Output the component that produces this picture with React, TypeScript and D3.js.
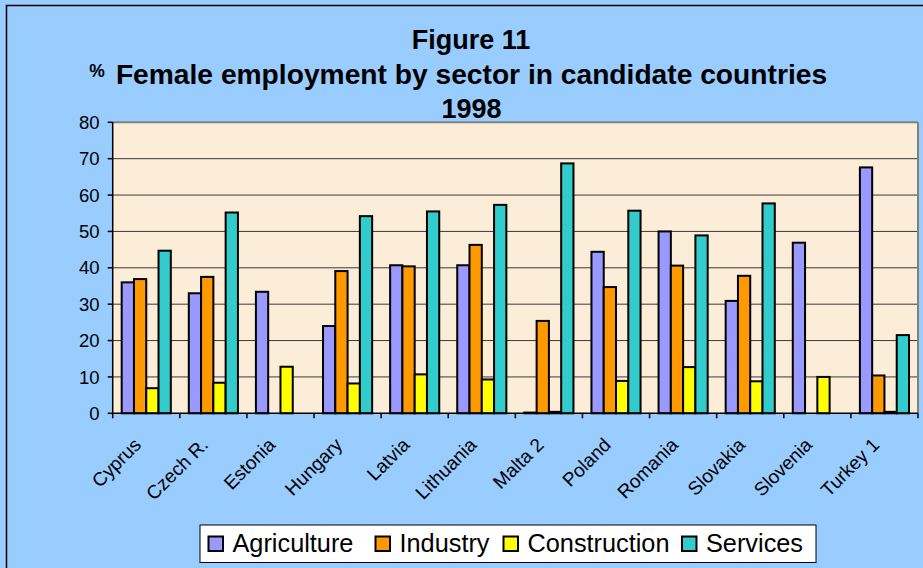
import React from "react";
import * as d3 from "d3";

const categories = ["Cyprus", "Czech R.", "Estonia", "Hungary", "Latvia", "Lithuania", "Malta 2", "Poland", "Romania", "Slovakia", "Slovenia", "Turkey 1"];
const seriesNames = ["Agriculture", "Industry", "Construction", "Services"];
const agriculture = [36.0, 33.0, 33.4, 24.0, 40.7, 40.7, 0.2, 44.4, 50.0, 30.9, 46.9, 67.6];
const industry = [36.9, 37.5, null, 39.1, 40.4, 46.3, 25.4, 34.7, 40.6, 37.8, null, 10.4];
const construction = [6.9, 8.4, 12.8, 8.2, 10.7, 9.3, 0.4, 8.9, 12.7, 8.8, 10.0, 0.4];
const services = [44.7, 55.2, null, 54.2, 55.5, 57.3, 68.7, 55.7, 48.9, 57.7, null, 21.5];
const yTicks = [0, 10, 20, 30, 40, 50, 60, 70, 80];
const colors = ["#9999FF", "#FF9900", "#FFFF00", "#33CCCC"];

const W = 923;
const H = 568;
const left = 112.7;
const right = 918;
const top = 122.3;
const bottom = 413.3;

export default function App() {
  const seriesValues: (number | null)[][] = [agriculture, industry, construction, services];
  const x0 = d3.scaleBand<string>().domain(categories).range([left, right]).padding(0);
  const bw = x0.bandwidth();
  const x1 = d3.scaleBand<string>().domain(seriesNames).range([bw * 0.134, bw * 0.866]).padding(0);
  const y = d3.scaleLinear().domain([0, 80]).range([bottom, top]);
  const font = "Arial, 'Liberation Sans', sans-serif";

  const legendItems = [
    { name: seriesNames[0], sx: 208.5, color: colors[0] },
    { name: seriesNames[1], sx: 375.5, color: colors[1] },
    { name: seriesNames[2], sx: 503.5, color: colors[2] },
    { name: seriesNames[3], sx: 682, color: colors[3] },
  ];

  return (
    <svg width={W} height={H} style={{ position: "absolute", left: 0, top: 0, display: "block" }} fontFamily={font}>
      <rect x={0} y={0} width={W} height={H} fill="#99CCFF" />
      <rect x={6.5} y={5.5} width={2000} height={2000} fill="none" stroke="#000" strokeWidth={1.5} />
      {/* Titles */}
      <text x={471} y={48.5} textAnchor="middle" fontWeight="bold" fontSize={27}>Figure 11</text>
      <text x={97} y={76.5} textAnchor="middle" fontWeight="bold" fontSize={17.5}>%</text>
      <text x={471.5} y={83.5} textAnchor="middle" fontWeight="bold" fontSize={28.2}>Female employment by sector in candidate countries</text>
      <text x={471.5} y={118} textAnchor="middle" fontWeight="bold" fontSize={27}>1998</text>

      {/* Plot area */}
      <rect x={left} y={top} width={right - left} height={bottom - top} fill="#FBEDD7" />
      {yTicks.filter((t) => t > 0 && t < 80).map((t) => (
        <line key={t} x1={left} x2={right} y1={y(t)} y2={y(t)} stroke="#3a3a3a" strokeWidth={1} />
      ))}
      <line x1={left} x2={right} y1={top} y2={top} stroke="#808080" strokeWidth={2} />
      <line x1={right} x2={right} y1={top} y2={bottom} stroke="#808080" strokeWidth={2} />

      {/* Bars */}
      {categories.map((c, ci) => (
        <g key={c} transform={`translate(${x0(c)},0)`}>
          {seriesNames.map((s, si) => {
            const v = seriesValues[si][ci];
            if (v === null || v === undefined) return null;
            return (
              <rect
                key={s}
                x={x1(s)}
                y={y(v)}
                width={x1.bandwidth()}
                height={bottom - y(v)}
                fill={colors[si]}
                stroke="#000"
                strokeWidth={2}
              />
            );
          })}
        </g>
      ))}

      {/* Axes */}
      <line x1={left} x2={left} y1={top} y2={bottom} stroke="#000" strokeWidth={1.5} />
      <line x1={left} x2={right} y1={bottom} y2={bottom} stroke="#000" strokeWidth={1.5} />
      {yTicks.map((t) => (
        <g key={t}>
          <line x1={left - 5} x2={left} y1={y(t)} y2={y(t)} stroke="#000" strokeWidth={1.5} />
          <text x={99.5} y={y(t)} dy="0.36em" textAnchor="end" fontSize={18.5}>{t}</text>
        </g>
      ))}
      {categories.map((c) => (
        <line key={"t" + c} x1={x0(c)!} x2={x0(c)!} y1={bottom} y2={bottom + 5} stroke="#000" strokeWidth={1.5} />
      ))}
      <line x1={right} x2={right} y1={bottom} y2={bottom + 5} stroke="#000" strokeWidth={1.5} />
      {categories.map((c) => {
        const cx = x0(c)! + bw / 2;
        return (
          <text key={"l" + c} transform={`translate(${cx - 4},${446}) rotate(-45)`} textAnchor="end" fontSize={19}>{c}</text>
        );
      })}

      {/* Legend */}
      <rect x={200} y={525} width={616} height={37.5} fill="#fff" stroke="#000" strokeWidth={1} />
      {legendItems.map((it) => (
        <g key={it.name}>
          <rect x={it.sx} y={536.5} width={14.5} height={14.5} fill={it.color} stroke="#000" strokeWidth={2} />
          <text x={it.sx + 24} y={552.3} fontSize={25.3}>{it.name}</text>
        </g>
      ))}
    </svg>
  );
}
